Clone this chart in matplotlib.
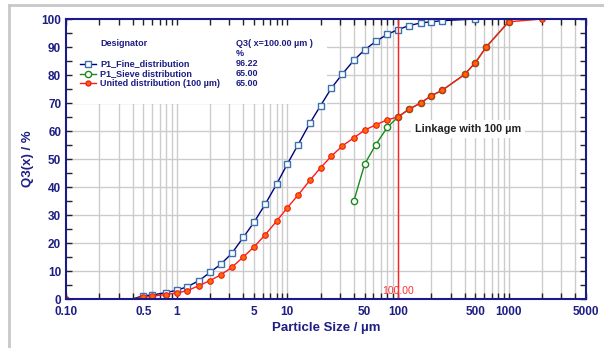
import numpy as np
import matplotlib.pyplot as plt
from matplotlib.lines import Line2D
from matplotlib.patches import Rectangle

plt.rcParams['font.family'] = ['Liberation Sans', 'DejaVu Sans']

# fine distribution (laser), Q3 in %
fine_size = [0.4, 0.5, 0.6, 0.8, 1, 1.25, 1.6, 2, 2.5, 3.15, 4, 5, 6.3, 8, 10, 12.5, 16, 20,
             25, 31.5, 40, 50, 63, 80, 100, 125, 160, 200, 250, 500]
fine_q3 = [0, 1.2, 1.4, 2.3, 3.1, 4.4, 6.6, 9.5, 12.4, 16.3, 22.0, 27.4, 33.8, 41.0, 48.2, 55.1,
           62.8, 69.1, 75.3, 80.4, 85.3, 89.0, 92.0, 94.5, 96.22, 97.6, 98.6, 99.0, 99.4, 100]

# sieve distribution
sieve_size = [40, 50, 63, 80, 100, 125, 160, 200, 250, 400, 500, 630, 1000]
sieve_q3 = [35.1, 48.2, 55.1, 61.3, 65.0, 67.7, 70.0, 72.6, 74.5, 80.2, 84.4, 90.1, 99.0]

# united distribution, linked at 100 um
united_size = [0.1, 0.4, 0.5, 0.6, 0.8, 1, 1.25, 1.6, 2, 2.5, 3.15, 4, 5, 6.3, 8, 10, 12.5, 16,
               20, 25, 31.5, 40, 50, 63, 80, 100, 125, 160, 200, 250, 400, 500, 630, 1000, 2000]
united_q3 = [0, 0, 0.6, 1.0, 1.6, 2.1, 3.0, 4.8, 6.6, 8.6, 11.3, 15.0, 18.6, 22.9, 27.8, 32.6,
             37.1, 42.4, 46.9, 51.0, 54.7, 57.6, 60.3, 62.2, 64.0, 65.0, 67.7, 70.0, 72.6, 74.5,
             80.2, 84.4, 90.1, 99.0, 100]

link_size = 100
legend_names = ['P1_Fine_distribution', 'P1_Sieve distribution', 'United distribution (100 µm)']
legend_values = ['96.22', '65.00', '65.00']

xticks = [0.1, 0.5, 1, 5, 10, 50, 100, 500, 1000, 5000]
xtick_labels = ['0.10', '0.5', '1', '5', '10', '50', '100', '500', '1000', '5000']

navy = '#1e1e84'
grid_c = '#cccccc'

fig = plt.figure(figsize=(6.04, 3.48), dpi=100)
ax = fig.add_axes([66 / 604, 1 - 299 / 348, 520 / 604, 280 / 348])
ax.set_xscale('log')
ax.set_xlim(0.1, 5000)
ax.set_ylim(0, 100)

# grid drawn by hand so the legend box can sit between grid and ticks
minor_pos = [m * 10.0 ** e for e in range(-1, 4) for m in range(1, 10) if m * 10.0 ** e <= 5000]
for xv in minor_pos[1:]:
    ax.axvline(xv, color=grid_c, lw=1, zorder=0.3)
for yv in range(10, 100, 10):
    ax.axhline(yv, color=grid_c, lw=1, zorder=0.3)

# white box behind the legend table
ax.add_patch(Rectangle((0, 0.696), 0.502, 0.304, transform=ax.transAxes,
                       facecolor='white', edgecolor='none', zorder=0.6))

# curves
ax.plot(sieve_size, sieve_q3, color='#1a8a1a', lw=1, marker='o', ms=4.5,
        mfc='white', mec='#1a8a1a', mew=1, zorder=3)
ax.plot(fine_size, fine_q3, color='#000080', lw=1, marker='s', ms=4.7,
        mfc='white', mec='#3a72b0', mew=1, markevery=list(range(1, len(fine_size))), zorder=3)
united_marks = [0] + list(range(2, len(united_size)))
ax.plot(united_size, united_q3, color='#ff1a1a', lw=1, marker='o', ms=4,
        mfc='#ff6a00', mec='#ee1c1c', mew=0.8, markevery=united_marks, zorder=4)

# linkage line
ax.plot([link_size, link_size], [0, 100], color='#ff2020', lw=1, zorder=3.5)
ax.text(link_size, 2.9, '100.00', color='#ff3030', fontsize=7.5, ha='center', va='center', zorder=5)
ax.text(0.773, 0.607, 'Linkage with 100 µm', transform=ax.transAxes, fontsize=7.8,
        fontweight='bold', color='#222222', ha='center', va='center', zorder=5,
        bbox=dict(facecolor='white', edgecolor='none', pad=3))

# legend table
fs = 6.5
ax.text(0.066, 0.912, 'Designator', transform=ax.transAxes, fontsize=fs, fontweight='bold',
        color=navy, va='center', zorder=5)
ax.text(0.327, 0.912, 'Q3( x=100.00 µm )', transform=ax.transAxes, fontsize=fs, fontweight='bold',
        color=navy, va='center', zorder=5)
ax.text(0.327, 0.878, '%', transform=ax.transAxes, fontsize=fs, fontweight='bold',
        color=navy, va='center', zorder=5)
row_y = [0.840, 0.805, 0.770]
styles = [dict(color='#000080', marker='s', mfc='white', mec='#3a72b0', ms=4.5),
          dict(color='#1a8a1a', marker='o', mfc='white', mec='#1a8a1a', ms=4.5),
          dict(color='#ff1a1a', marker='o', mfc='#ff6a00', mec='#ee1c1c', ms=3.5)]
for yy, name, val, st in zip(row_y, legend_names, legend_values, styles):
    ax.add_line(Line2D([0.027, 0.0425, 0.058], [yy, yy, yy], transform=ax.transAxes, lw=1,
                       zorder=5, markevery=[1], **st))
    ax.text(0.066, yy, name, transform=ax.transAxes, fontsize=fs, fontweight='bold',
            color=navy, va='center', zorder=5)
    ax.text(0.327, yy, val, transform=ax.transAxes, fontsize=fs, fontweight='bold',
            color=navy, va='center', zorder=5)

# axes styling
ax.set_xticks(xticks)
ax.set_xticklabels(xtick_labels)
ax.set_xticks(minor_pos, minor=True)
ax.xaxis.set_minor_formatter(plt.NullFormatter())
ax.set_yticks(range(0, 101, 10))
ax.set_yticks(range(5, 100, 10), minor=True)
ax.tick_params(which='both', direction='in', top=True, right=True, color='#222222',
               labelcolor=navy, labelsize=8.5, width=1, length=4)
for lab in ax.get_xticklabels() + ax.get_yticklabels():
    lab.set_fontweight('bold')
ax.tick_params(axis='x', pad=5)
for sp in ax.spines.values():
    sp.set_color('#1a1a8a')
    sp.set_linewidth(1.5)
    sp.set_zorder(6)

ax.set_xlabel('Particle Size / µm', fontsize=9.5, fontweight='bold', color=navy, labelpad=3)
ax.set_ylabel('Q3(x) / %', fontsize=9.5, fontweight='bold', color=navy, labelpad=5)

# grey frame at top and left
fig.add_artist(Line2D([9 / 604, 1], [1 - 5 / 348, 1 - 5 / 348], color='#c8c8c8', lw=2))
fig.add_artist(Line2D([9 / 604, 9 / 604], [0, 1 - 5 / 348], color='#c8c8c8', lw=2))

fig.savefig('out.png', dpi=100)
